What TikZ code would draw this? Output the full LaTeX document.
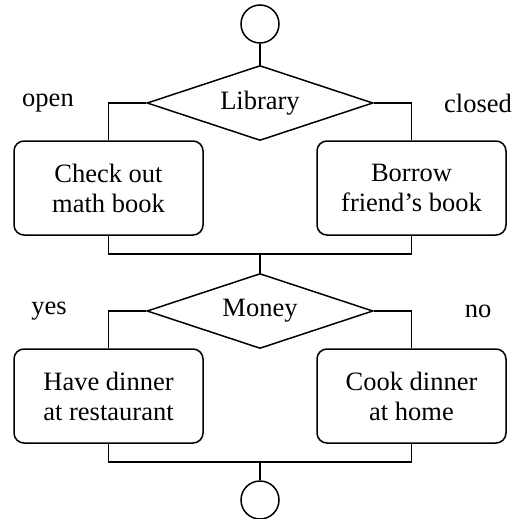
\documentclass[tikz,border=0pt]{standalone}
\usepackage{fontspec}
\setmainfont{Liberation Serif}
\usetikzlibrary{shapes.geometric}
\begin{document}
\begin{tikzpicture}[x=1pt,y=-1pt,line width=1.5pt,
  every node/.style={font=\fontsize{26.5}{30}\selectfont},
  term/.style={circle,draw,minimum size=38pt,inner sep=0pt},
  decision/.style={diamond,draw,minimum width=226pt,minimum height=75pt,aspect=3,inner sep=0pt},
  action/.style={rectangle,draw,rounded corners=10pt,minimum width=189pt,minimum height=94pt,align=center,inner sep=2pt},
  lbl/.style={inner sep=0pt}]
\useasboundingbox (0,0) rectangle (517,519);
\node[term] (start) at (260,24) {};
\node[decision] (d1) at (260,103) {Library};
\node[action] (b1) at (108.5,188) {Check out\\math book};
\node[action] (b2) at (411.5,188) {Borrow\\friend’s book};
\coordinate (m1) at (260,254);
\node[decision] (d2) at (260,311) {Money};
\node[action] (b3) at (108.5,396) {Have dinner\\at restaurant};
\node[action] (b4) at (411.5,396) {Cook dinner\\at home};
\coordinate (m2) at (260,462);
\node[term] (end) at (260,500) {};
\node[lbl] (l1) at (48,103) {open};
\node[lbl] (l2) at (478,103) {closed};
\node[lbl] (l3) at (49,311) {yes};
\node[lbl] (l4) at (478,311) {no};
\draw (start) -- (d1.north);
\draw (d1.west) -| (b1.north);
\draw (d1.east) -| (b2.north);
\draw (b1.south) |- (m1) -| (b2.south);
\draw (m1) -- (d2.north);
\draw (d2.west) -| (b3.north);
\draw (d2.east) -| (b4.north);
\draw (b3.south) |- (m2) -| (b4.south);
\draw (m2) -- (end);
\end{tikzpicture}
\end{document}
